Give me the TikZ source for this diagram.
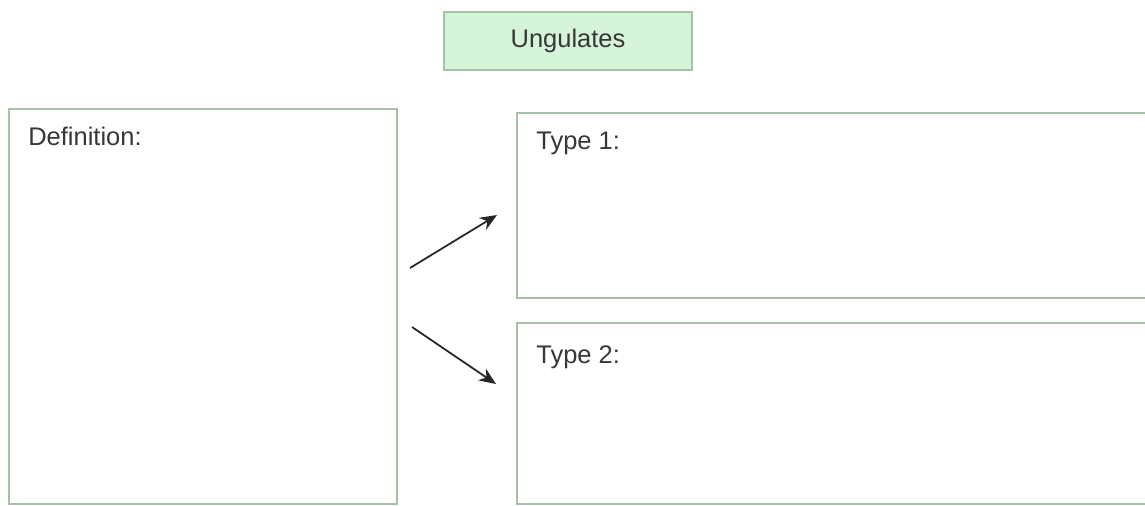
\documentclass[tikz,border=0pt]{standalone}
\usepackage{fontspec}
\setmainfont{Liberation Sans}
\usepackage{xcolor}
\usepackage{tikz}
\usetikzlibrary{positioning,arrows.meta,calc}
\definecolor{ungline}{RGB}{168,192,168}
\definecolor{ungfill}{RGB}{214,244,218}
\definecolor{ungtext}{RGB}{55,55,55}
\tikzset{
  box/.style={draw=ungline, line width=1.1pt, fill=white, anchor=north west, inner sep=0pt},
  title/.style={draw=ungline, line width=1.1pt, fill=ungfill, inner sep=0pt, font=\fontsize{14.5}{17}\selectfont, text=ungtext},
  lbl/.style={inner sep=0pt, font=\fontsize{14.5}{17}\selectfont, text=ungtext},
  arr/.style={-{Stealth[length=3.4mm, width=2.8mm]}, line width=1pt, draw=black!85},
}

\begin{document}
\begin{tikzpicture}[x=0.02cm, y=-0.02cm]
    \useasboundingbox (0,0) rectangle (1145,505);
    \clip (0,0) rectangle (1145,505);
    % heading
    \node[title, minimum width=4.96cm, minimum height=1.16cm] (ung) at (568,41) {Ungulates};
    % the three boxes
    \node[box, minimum width=7.76cm, minimum height=7.9cm] (def) at (8,108) {};
    \node[box, minimum width=12.9cm, minimum height=3.7cm] (type1) at (516,112) {};
    \node[box, minimum width=12.9cm, minimum height=3.62cm] (type2) at (516,322) {};
    \node[lbl, below right=0.38cm and 0.4cm of def.north west] (deflbl) {Definition:};
    \node[lbl, below right=0.4cm and 0.4cm of type1.north west] (t1lbl) {Type 1:};
    \node[lbl, below right=0.46cm and 0.4cm of type2.north west] (t2lbl) {Type 2:};
    % arrows between the boxes
    \coordinate (up0) at (410,268);
    \coordinate (up1) at (497,215);
    \coordinate (dn0) at (412,327);
    \coordinate (dn1) at (496,384);
    \draw[arr] (up0) -- (up1);
    \draw[arr] (dn0) -- (dn1);
\end{tikzpicture}
\end{document}
